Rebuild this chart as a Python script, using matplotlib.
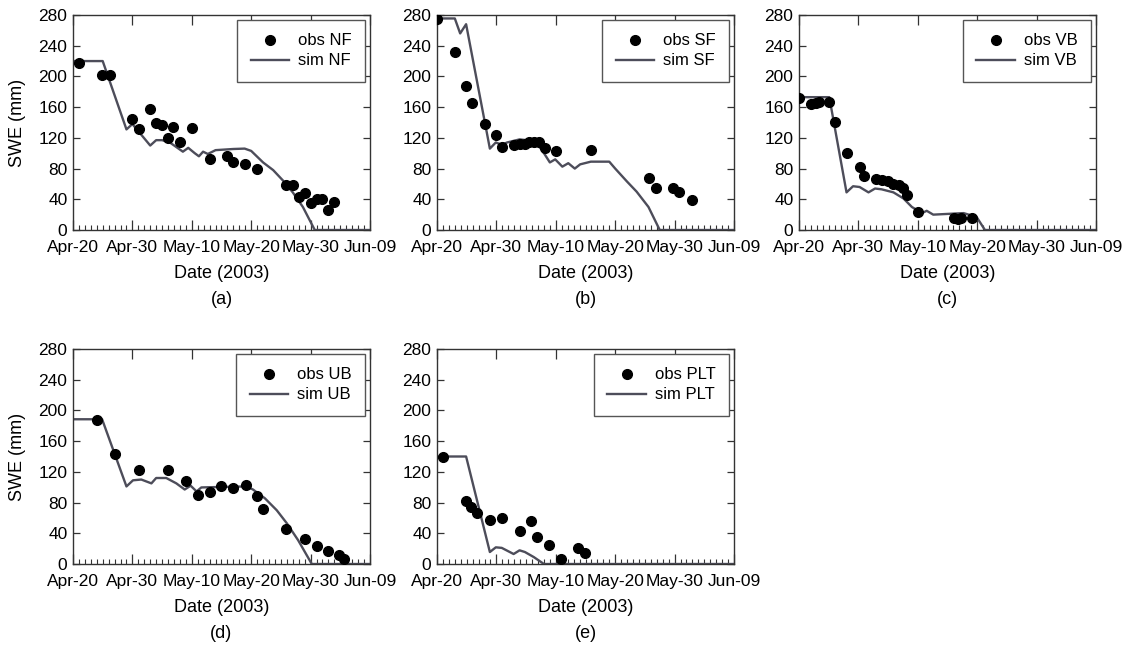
import matplotlib
matplotlib.use("Agg")
import matplotlib.pyplot as plt
from matplotlib.ticker import MultipleLocator

plt.rcParams['font.family'] = ['Liberation Sans', 'DejaVu Sans']

# days after Apr-20 (2003), SWE in mm
xtick_days = [0, 10, 20, 30, 40, 50]
xtick_labels = ['Apr-20', 'Apr-30', 'May-10', 'May-20', 'May-30', 'Jun-09']

obs_nf_day = [1, 4.9, 6.2, 10, 11.1, 13, 13.9, 15, 16, 16.9, 18, 20, 23, 26, 27, 29, 31,
              35.9, 37, 38, 39, 40, 41, 42, 43, 44]
obs_nf = [218, 202, 202, 144, 132, 158, 139, 137, 120, 134, 115, 133, 92, 97, 88, 86, 79,
          58, 58, 43, 48, 35, 40, 41, 26, 37]
sim_nf_day = [0, 5, 9, 10, 13, 14, 15, 16.3, 17.4, 18.5, 19.4, 20.5, 21.2, 21.9, 22.7, 24,
              27, 28.9, 30, 32, 33.7, 35.4, 37, 38.7, 40.7, 50]
sim_nf = [220, 220, 131, 138, 110, 117, 117, 114, 108, 102, 107, 100, 96, 102, 99, 104,
          105.5, 106, 103, 88, 78, 64, 49, 30, 0, 0]

obs_sf_day = [0, 3, 4.9, 5.9, 8, 9.9, 11, 12.9, 13.9, 14.8, 15.5, 16.4, 17.1, 18.1, 20,
              25.9, 35.7, 36.9, 39.8, 40.8, 42.9]
obs_sf = [275, 232, 188, 165, 138, 124, 108.5, 111, 112, 112, 114, 115, 114, 107, 103,
          104, 68, 55, 55, 50, 39]
sim_sf_day = [0, 3, 3.9, 4.9, 8.9, 9.9, 10.9, 11.8, 13.9, 15.1, 16.3, 17.6, 19, 19.9, 21.1,
              22.1, 23.2, 24.1, 25.9, 29, 30, 32, 33.6, 35.6, 37.5, 50]
sim_sf = [275.5, 275.5, 256, 268, 106, 114, 111, 114, 118, 117, 115, 105, 88, 92, 82.5,
          87, 80, 85.5, 89, 89, 80, 63, 50, 30, 0, 0]

obs_vb_day = [0, 2, 2.8, 3.3, 5.1, 6.1, 8, 10.2, 10.9, 12.9, 13.9, 14.9, 15.9, 16.9, 17.5,
              18.1, 20.1, 26.1, 26.8, 27.2, 29.1]
obs_vb = [172, 164, 166, 167, 167, 141, 100, 82, 70, 66, 65, 64, 60, 58, 55, 46, 24, 15,
          14, 15, 15]
sim_vb_day = [0, 5.1, 8, 9.1, 10.2, 11.7, 12.8, 13.9, 15.9, 17.6, 19, 20.7, 21.5, 22.6,
              27.7, 29.9, 31.3, 50]
sim_vb = [173, 173, 49, 57, 56, 49, 54, 53, 49, 41, 30, 22, 25, 20, 22, 17, 0, 0]

obs_ub_day = [4, 7.1, 11.1, 16, 19.1, 21.1, 23.1, 25, 27, 29.1, 31, 32, 35.9, 39.1, 41, 43,
              44.8, 45.6]
obs_ub = [188, 143, 123, 122, 108, 90, 94, 102, 99, 103, 89, 71, 46, 32, 23, 17, 12, 6]
sim_ub_day = [0, 4.9, 9, 10.1, 11.5, 13.2, 14, 15.7, 17.4, 18.8, 19.8, 20.8, 21.6, 23,
              29.2, 30.3, 32.3, 34.3, 36, 37.9, 40.2, 50]
sim_ub = [188.5, 188.5, 101, 109, 110, 105, 112, 112, 105, 97, 102, 94.5, 99.7, 100, 101,
          97, 85.6, 70, 53, 31, 0, 0]

obs_plt_day = [1, 4.9, 5.8, 6.7, 8.9, 10.9, 13.9, 15.9, 16.8, 18.8, 20.9, 23.8, 24.9]
obs_plt = [139, 81.5, 74, 66, 57.6, 60, 43, 56, 35, 25, 6.5, 21, 14]
sim_plt_day = [0, 4.9, 8.9, 9.9, 10.9, 12.9, 13.9, 14.8, 16.3, 18, 50]
sim_plt = [140, 140, 15.6, 21.7, 21, 13, 17.8, 15.6, 9, 0, 0]

W, H = 1127, 648
fig = plt.figure(figsize=(W / 100, H / 100), dpi=100)

line_col = '#4d4d5a'
spine_col = '#333333'


def panel(left, top, name, letter, od, ov, sd, sv, ylabel=False):
    pw, ph = 297, 215
    ax = fig.add_axes([left / W, (H - top - ph) / H, pw / W, ph / H])
    ax.plot(sd, sv, color=line_col, lw=1.7, label='sim ' + name, zorder=2)
    ax.plot(od, ov, 'o', color='black', ms=7, label='obs ' + name, zorder=3)
    ax.set_xlim(0, 50)
    ax.set_ylim(0, 280)
    ax.set_xticks(xtick_days)
    ax.set_xticklabels(xtick_labels)
    ax.xaxis.set_minor_locator(MultipleLocator(1))
    ax.yaxis.set_major_locator(MultipleLocator(40))
    ax.tick_params(axis='x', which='major', direction='in', length=7, top=True,
                   labelsize=12.5, pad=7.5, color=spine_col, width=0.9)
    ax.tick_params(axis='x', which='minor', direction='in', length=3.5, top=False,
                   color=spine_col, width=0.8)
    ax.tick_params(axis='y', which='major', direction='in', length=5, right=True,
                   labelsize=12.5, pad=4, color=spine_col, width=0.9)
    for s in ax.spines.values():
        s.set_color(spine_col)
        s.set_linewidth(1.0)
    h, l = ax.get_legend_handles_labels()
    leg = ax.legend(h[::-1], l[::-1], loc='upper right', fontsize=12, numpoints=1,
                    fancybox=False, framealpha=1, edgecolor='#555555',
                    borderpad=0.8, labelspacing=0.3, handlelength=2.3,
                    handletextpad=0.55, borderaxespad=0.3)
    leg.get_frame().set_linewidth(1.0)
    ax.annotate('Date (2003)', xy=(0.5, 0), xycoords='axes fraction',
                xytext=(0, -44 * 0.72), textcoords='offset points',
                ha='center', va='center', fontsize=13)
    ax.annotate('(' + letter + ')', xy=(0.5, 0), xycoords='axes fraction',
                xytext=(0, -69 * 0.72), textcoords='offset points',
                ha='center', va='center', fontsize=13)
    if ylabel:
        ax.annotate('SWE (mm)', xy=(0, 0.5), xycoords='axes fraction',
                    xytext=(-55 * 0.72, 0), textcoords='offset points',
                    ha='center', va='center', rotation=90, fontsize=13)
    return ax


panel(73, 15, 'NF', 'a', obs_nf_day, obs_nf, sim_nf_day, sim_nf, ylabel=True)
panel(437, 15, 'SF', 'b', obs_sf_day, obs_sf, sim_sf_day, sim_sf)
panel(799, 15, 'VB', 'c', obs_vb_day, obs_vb, sim_vb_day, sim_vb)
panel(73, 349, 'UB', 'd', obs_ub_day, obs_ub, sim_ub_day, sim_ub, ylabel=True)
panel(437, 349, 'PLT', 'e', obs_plt_day, obs_plt, sim_plt_day, sim_plt)

fig.savefig('out.png', dpi=100)
